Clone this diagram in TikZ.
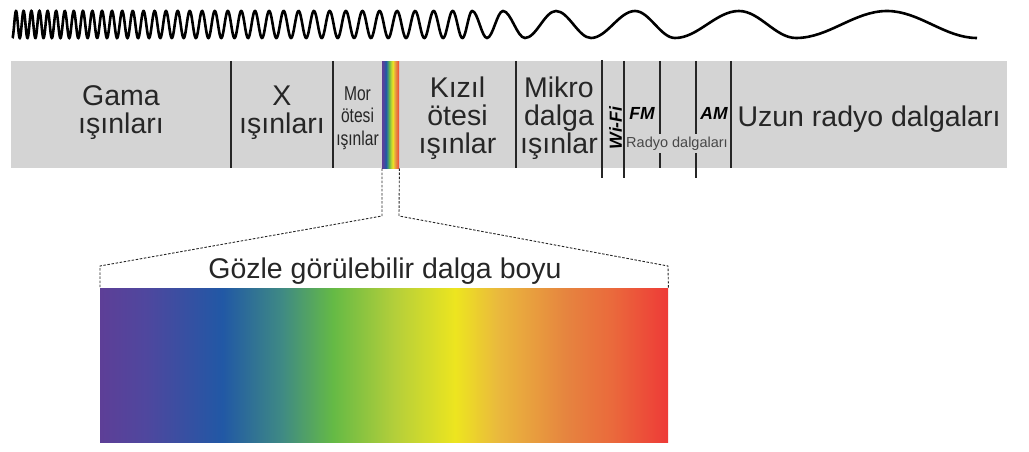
\documentclass[tikz,border=0pt]{standalone}
\usepackage{fontspec}
\setmainfont{Liberation Sans}
\newfontfamily\narrowfont[FakeStretch=0.78]{Liberation Sans}
\definecolor{bargray}{RGB}{212,212,212}
\definecolor{txt}{RGB}{38,38,38}
\pgfdeclarehorizontalshading{spectrum}{100bp}{%
rgb(0bp)=(0.365,0.247,0.592);
rgb(25bp)=(0.365,0.247,0.592);
rgb(29bp)=(0.310,0.278,0.620);
rgb(35.75bp)=(0.129,0.345,0.647);
rgb(41bp)=(0.247,0.541,0.518);
rgb(45.5bp)=(0.396,0.729,0.271);
rgb(51bp)=(0.710,0.812,0.227);
rgb(56.25bp)=(0.929,0.898,0.122);
rgb(60bp)=(0.918,0.725,0.239);
rgb(66bp)=(0.902,0.518,0.247);
rgb(70bp)=(0.918,0.416,0.235);
rgb(75bp)=(0.933,0.227,0.216);
rgb(100bp)=(0.933,0.227,0.216)}
\begin{document}
\begin{tikzpicture}[x=1pt,y=-1pt,
  big/.style={font=\fontsize{28.5}{32}\selectfont, text=txt, anchor=base, inner sep=0pt},
  morstyle/.style={font=\narrowfont\fontsize{20}{22}\selectfont, text=txt, anchor=base, inner sep=0pt},
  band/.style={font=\bfseries\itshape\fontsize{17.5}{20}\selectfont, text=black, inner sep=0pt},
  radyostyle/.style={font=\fontsize{14.5}{17}\selectfont, text=txt!85, anchor=base, fill=bargray, inner xsep=0pt, inner ysep=2.5pt},
  titlestyle/.style={font=\fontsize{28.5}{32}\selectfont, text=txt, anchor=base, inner sep=0pt},
  divider/.style={draw=black!85, line width=1.1pt},
  dashline/.style={draw=black!85, line width=0.9pt, dash pattern=on 2.5pt off 1.6pt},
  wave/.style={draw=black, line width=2.6pt},
  spec/.style={shade, shading=spectrum, inner sep=0pt, anchor=north west}
]
\useasboundingbox (0,0) rectangle (1029,452);

% wave
\draw[wave] plot[domain=-0.5:36, samples=1200, variable=\t]
  ({16+277.78*(exp(0.027*\t)-1)}, {24.5-13.5*cos(360*\t)})
  .. controls (477.7,11) and (481.7,38) .. (487,38)
  .. controls (492.8,38) and (497.2,11) .. (503,11)
  .. controls (510.9,11) and (517.1,38) .. (525,38)
  .. controls (536.2,38) and (544.8,11) .. (556,11)
  .. controls (568.6,11) and (578.4,38) .. (591,38)
  .. controls (606.8,38) and (619.2,11) .. (635,11)
  .. controls (649.4,11) and (660.6,38) .. (675,38)
  .. controls (698,38) and (716,11) .. (739,11)
  .. controls (759.5,11) and (775.5,38) .. (796,38)
  .. controls (828.8,38) and (854.2,11) .. (887,11)
  .. controls (919.4,11) and (944.6,38) .. (977,38);

% bar
\fill[bargray] (11,61) rectangle (1007,168);
\node[spec, minimum width=17pt, minimum height=107pt] (strip) at (382,61) {};

\draw[divider] (231,61) -- (231,168);
\draw[divider] (333,61) -- (333,168);
\draw[divider] (516,61) -- (516,168);
\draw[divider] (602,60) -- (602,178);
\draw[divider] (624,61) -- (624,178);
\draw[divider] (660,61) -- (660,168);
\draw[divider] (696,61) -- (696,178);
\draw[divider] (731,61) -- (731,168);

% labels
\node[big] (gama1) at (121,105.5) {Gama};
\node[big] (gama2) at (121,133.5) {ışınları};
\node[big] (xr1) at (282,105.5) {X};
\node[big] (xr2) at (282,133.5) {ışınları};
\node[morstyle] (mor1) at (357.5,100) {Mor};
\node[morstyle] (mor2) at (357.5,122.5) {ötesi};
\node[morstyle] (mor3) at (357.5,145) {ışınlar};
\node[big] (kiz1) at (457.5,97.5) {Kızıl};
\node[big] (kiz2) at (457.5,125.5) {ötesi};
\node[big] (kiz3) at (457.5,153.5) {ışınlar};
\node[big] (mik1) at (559,97.5) {Mikro};
\node[big] (mik2) at (559,125.5) {dalga};
\node[big] (mik3) at (559,153.5) {ışınlar};
\node[band, rotate=90, anchor=center] (wifi) at (615.5,128) {Wi-Fi};
\node[band, anchor=base] (fm) at (642,120) {FM};
\node[band, anchor=base] (am) at (714,120) {AM};
\node[radyostyle] (radyo) at (677,147) {Radyo dalgaları};
\node[big] (uzun) at (869,126) {Uzun radyo dalgaları};

% visible spectrum
\node[spec, minimum width=568pt, minimum height=154pt] (visspec) at (100,288) {};
\node[titlestyle] (vis) at (385,278.5) {Gözle görülebilir dalga boyu};

\coordinate (kl) at (382,216);
\coordinate (kr) at (399,216);
\coordinate (cl) at (100,266);
\coordinate (cr) at (668,266);
\draw[dashline] (strip.south west) -- (kl) -- (cl) -- (visspec.north west);
\draw[dashline] (strip.south east) -- (kr) -- (cr) -- (visspec.north east);
\end{tikzpicture}
\end{document}
